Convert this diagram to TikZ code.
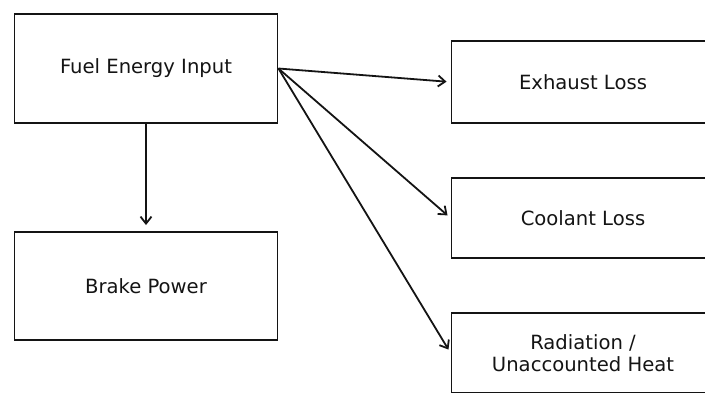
\documentclass[tikz,border=0pt]{standalone}
\usepackage{fontspec}
\setmainfont{DejaVu Sans}
\usetikzlibrary{arrows.meta}
\usetikzlibrary{positioning}

\tikzset{
	block/.style={draw, line width=1.9pt, minimum width=263pt, inner sep=0pt,
		align=center, font=\fontsize{19.6}{22.5}\selectfont},
	tall/.style={block, minimum height=109pt},
	flat/.style={block, minimum height=81pt},
	flow/.style={line width=1.8pt, -{Straight Barb[length=7pt,width=11pt,line width=1.8pt]}, shorten >=4pt}
}

\begin{document}
\begin{tikzpicture}[x=1pt, y=-1pt, color=black!92]

	% page frame, the right column runs off the edge
	\useasboundingbox (0,0) rectangle (705,392);
	\clip (0,0) rectangle (705,392);

	% left column
	\node[tall] (fuel) at (146,68.5) {Fuel Energy Input};
	\node[tall, minimum height=108pt] (brake) at (146,286) {Brake Power};

	% right column
	\node[flat, minimum height=82pt] (exhaust) at (583,82) {Exhaust Loss};
	\node[flat, minimum height=80pt] (coolant) at (583,218) {Coolant Loss};
	\node[flat, minimum height=80pt] (radiation) at (583,353) {Radiation /\\Unaccounted Heat};

	% arrows
	\draw[flow, shorten >=6pt] (fuel.south) -- (brake.north);
	\foreach \loss in {exhaust,coolant,radiation}{
		\draw[flow] (fuel.east) -- (\loss.west);
	}

\end{tikzpicture}
\end{document}
